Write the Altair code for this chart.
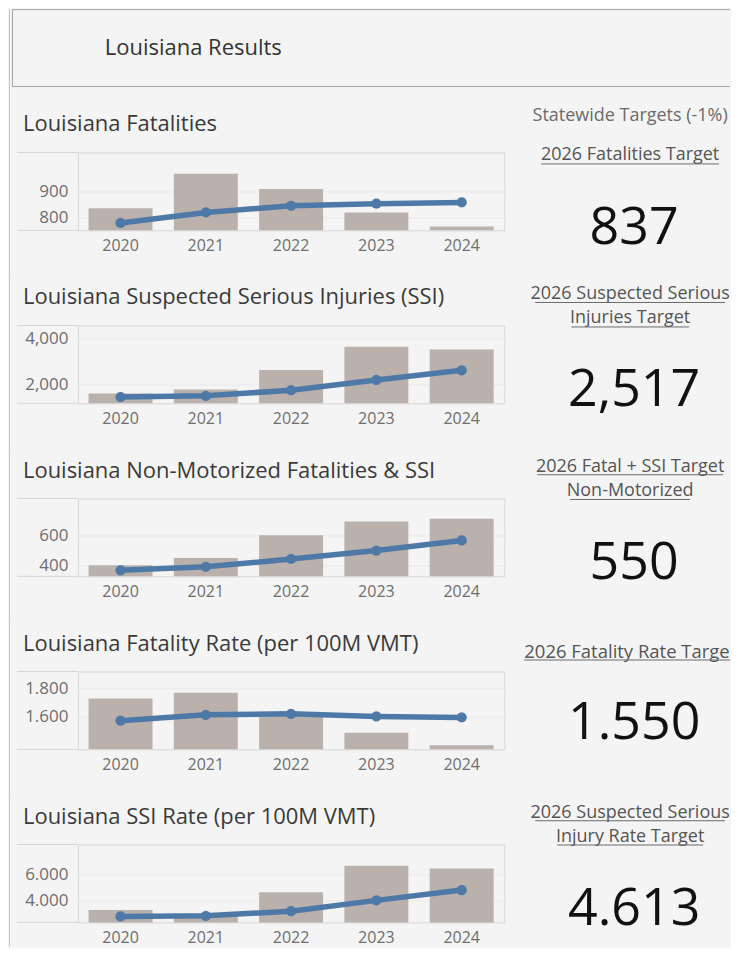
import altair as alt
import pandas as pd

# ---------------- data ----------------
dashboard_title = "Louisiana Results"
years = ["2020", "2021", "2022", "2023", "2024"]

panel_titles = [
    "Louisiana Fatalities",
    "Louisiana Suspected Serious Injuries (SSI)",
    "Louisiana Non-Motorized Fatalities & SSI",
    "Louisiana Fatality Rate (per 100M VMT)",
    "Louisiana SSI Rate (per 100M VMT)",
]

# annual values (bars)
fatalities = [834, 969, 909, 818, 763]
ssi = [1596, 1770, 2622, 3640, 3522]
nonmotorized = [400, 448, 603, 697, 715]
fatality_rate = [1.730, 1.771, 1.620, 1.483, 1.391]
ssi_rate = [3.22, 2.85, 4.62, 6.67, 6.46]
annual_values = [fatalities, ssi, nonmotorized, fatality_rate, ssi_rate]

# rolling averages (line)
fatalities_avg = [777, 818, 844, 852, 857]
ssi_avg = [1435, 1491, 1739, 2187, 2609]
nonmotorized_avg = [365, 389, 442, 499, 568]
fatality_rate_avg = [1.569, 1.612, 1.619, 1.600, 1.593]
ssi_rate_avg = [2.73, 2.78, 3.14, 3.98, 4.78]
rolling_values = [fatalities_avg, ssi_avg, nonmotorized_avg, fatality_rate_avg, ssi_rate_avg]

axis_domains = [[748, 1052], [1160, 4580], [324, 853], [1.362, 1.925], [2.265, 8.33]]
axis_ticks = [[800, 900], [2000, 4000], [400, 600], [1.6, 1.8], [4, 6]]
axis_formats = [",d", ",d", ",d", ".3f", ".3f"]

targets_header = "Statewide Targets (-1%)"
target_labels = [
    ["2026 Fatalities Target"],
    ["2026 Suspected Serious", "Injuries Target"],
    ["2026 Fatal + SSI Target", "Non-Motorized"],
    ["2026 Fatality Rate Target"],
    ["2026 Suspected Serious", "Injury Rate Target"],
]
target_values = [837, 2517, 550, 1.550, 4.613]
target_formats = ["{:,.0f}", "{:,.0f}", "{:,.0f}", "{:.3f}", "{:.3f}"]

# ---------------- styling / layout ----------------
FONT = "Open Sans"
BG = "#f4f4f4"
BAR = "#bab0ac"
LINE = "#4e79a7"
FRAME = "#d6d6d6"
W, H = 427, 78
OX = 77            # page x of the plot origin
RIGHT = 730        # right edge of the drawing (page x)
LX = 630 - OX      # centre of the target labels
NX = 634 - OX      # centre of the target numbers

label_y = [[3], [-31, -7], [-31.5, -7.5], [-19.5], [-31.5, -7.5]]
number_y = [76, 65, 65, 52, 64.5]
# underline extents (page x) and y (relative to plot top)
underlines = [
    [(541, 719, 11.5)],
    [(535, 725, -23), (571, 689, 1.5)],
    [(537, 723, -23.8), (570, 690, 1)],
    [(524, RIGHT, -11.5)],
    [(535, 725, -23.8), (557, 703, 0.5)],
]
# vertical extent of each row (relative to its plot top); a filled strip defines it
row_extent = [(-143.5, 123), (-50, 123), (-50, 123), (-50, 123), (-50, 102)]
HEADER_TOP = -143

one = pd.DataFrame({"k": [0]})


def txt(text, x, y, size, color, align="center", **kw):
    return alt.Chart(pd.DataFrame({"t": [text]})).mark_text(
        font=FONT, fontSize=size, color=color, align=align, baseline="middle", **kw
    ).encode(x=alt.value(x), y=alt.value(y), text="t:N")


def hrule(x1, x2, y, color, w=1):
    return alt.Chart(one).mark_rule(color=color, strokeWidth=w).encode(
        x=alt.value(x1), x2=alt.value(x2), y=alt.value(y)
    )


def vrule(x, y1, y2, color, w=1):
    return alt.Chart(one).mark_rule(color=color, strokeWidth=w).encode(
        x=alt.value(x), y=alt.value(y1), y2=alt.value(y2)
    )


def strip(x1, x2, y1, y2, color):
    return alt.Chart(one).mark_rect(color=color, strokeWidth=0).encode(
        x=alt.value(x1), x2=alt.value(x2), y=alt.value(y1), y2=alt.value(y2)
    )


def make_row(i):
    df = pd.DataFrame({"year": years, "annual": annual_values[i], "rolling": rolling_values[i]})
    yscale = alt.Scale(domain=axis_domains[i], zero=False, nice=False, clamp=True)
    xaxis = alt.Axis(title=None, labelAngle=0, ticks=False, domain=False, labelPadding=7,
                     labelFontSize=16, labelColor="#6e6e6e", labelFont=FONT, grid=False)
    yaxis = alt.Axis(title=None, values=axis_ticks[i], format=axis_formats[i], ticks=False,
                     domain=False, labelPadding=10, labelFontSize=17, labelColor="#6e6e6e",
                     labelFont=FONT, grid=True, gridColor="#e9e9e9")
    xenc = alt.X("year:N", scale=alt.Scale(paddingInner=0.25, paddingOuter=0.125), axis=xaxis)
    base = alt.Chart(df)
    bars = base.mark_bar(color=BAR).encode(x=xenc, y=alt.Y("annual:Q", scale=yscale, axis=yaxis))
    line = base.mark_line(color=LINE, strokeWidth=5.5).encode(
        x=xenc, y=alt.Y("rolling:Q", scale=yscale, axis=yaxis))
    pts = base.mark_circle(color=LINE, size=105, opacity=1).encode(
        x=xenc, y=alt.Y("rolling:Q", scale=yscale, axis=yaxis))

    deco = []
    top, bottom = row_extent[i]
    deco.append(strip(8 - OX, 9 - OX, top, bottom, "#c4c4c4"))   # dashboard left border
    deco.append(hrule(16 - OX, 0, 0, FRAME))                      # axis pane top
    deco.append(hrule(16 - OX, 0, H, FRAME))                      # axis pane bottom
    deco.append(txt(panel_titles[i], 22 - OX, -28, 22, "#3a3a3a", align="left"))

    if i == 0:
        # header box
        deco.append(hrule(11.5 - OX, RIGHT - OX, HEADER_TOP, "#a3a3a3"))
        deco.append(hrule(11.5 - OX, RIGHT - OX, -66, "#a3a3a3"))
        deco.append(vrule(11.5 - OX, HEADER_TOP, -66, "#a3a3a3"))
        deco.append(txt(dashboard_title, 104 - OX, -104.5, 22, "#333333", align="left"))
        deco.append(txt(targets_header, LX, -36.3, 18, "#6b6b6b"))

    for j, lab in enumerate(target_labels[i]):
        if i == 3:
            deco.append(txt(lab, 524 - OX, label_y[i][j], 18.5, "#555555", align="left",
                            limit=RIGHT - 524, ellipsis="\u200b"))
        else:
            deco.append(txt(lab, LX, label_y[i][j], 18, "#555555"))
    for (a, b, y) in underlines[i]:
        deco.append(hrule(a - OX, b - OX, y, "#6a6a6a"))
    deco.append(txt(target_formats[i].format(target_values[i]), NX, number_y[i], 52, "#111111"))

    return alt.layer(bars, line, pts, *deco).properties(width=W, height=H)


rows = [make_row(i) for i in range(5)]

chart = (
    alt.vconcat(*rows, spacing=-1.75)
    .resolve_scale(y="independent")
    .properties(padding=0, background=BG)
    .configure_view(stroke=FRAME, strokeWidth=1)
)

chart.save("out.html", embed_options={"renderer": "svg", "actions": False})
